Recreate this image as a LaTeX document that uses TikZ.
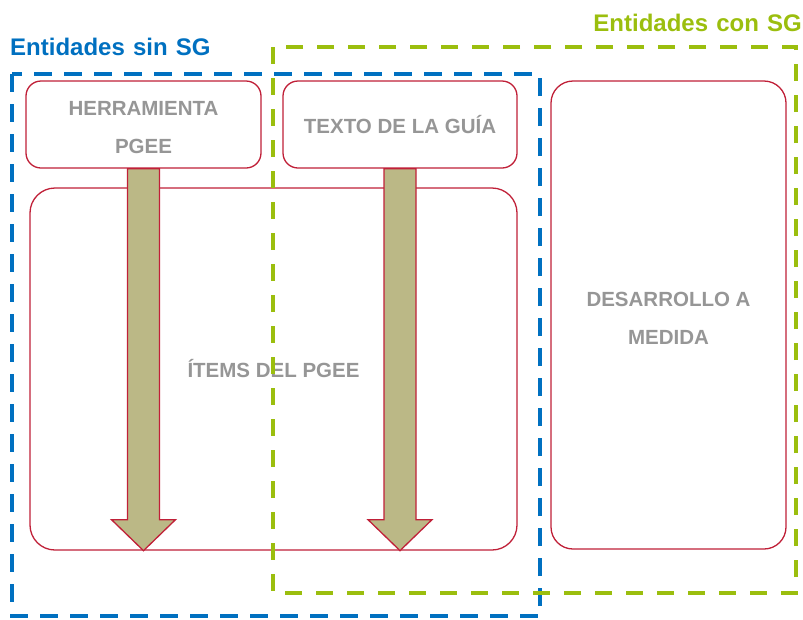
\documentclass[tikz,border=0pt]{standalone}
\usepackage{fontspec}
\setmainfont{Liberation Sans}
\usetikzlibrary{calc}
\definecolor{sgblue}{RGB}{0,112,192}
\definecolor{sggreen}{RGB}{155,190,14}
\definecolor{boxred}{RGB}{192,32,56}
\definecolor{txtgray}{RGB}{150,150,150}
\definecolor{arrowfill}{RGB}{187,184,134}
\newcommand{\topstrut}{\rule{0pt}{21pt}}
\tikzset{
  stepbox/.style={draw=boxred, line width=1.3pt, fill=white, inner sep=0pt,
    align=center, text=txtgray, font=\bfseries\fontsize{20.5}{38}\selectfont},
  bigarrow/.style={draw=boxred, line width=1.3pt, fill=arrowfill, line join=miter},
  bluegroup/.style={draw=sgblue, line width=4.5pt, dash pattern=on 18pt off 12pt},
  greengroup/.style={draw=sggreen, line width=4.5pt, dash pattern=on 17pt off 14pt},
  grouplabel/.style={inner sep=0pt, font=\bfseries\fontsize{24}{28}\selectfont}
}
\begin{document}
\begin{tikzpicture}[x=1pt,y=-1pt]
\useasboundingbox (0,0) rectangle (803,619);
% boxes
\node[stepbox, rounded corners=25pt, minimum width=487pt, minimum height=362pt] (items) at (273.5,369) {ÍTEMS DEL PGEE};
\node[stepbox, rounded corners=15pt, minimum width=235pt, minimum height=87pt] (herr) at (143.5,124.5) {\topstrut HERRAMIENTA\\PGEE};
\node[stepbox, rounded corners=15pt, minimum width=234pt, minimum height=87pt] (guia) at (400,124.5) {TEXTO DE LA GUÍA};
\node[stepbox, rounded corners=22pt, minimum width=235pt, minimum height=468pt] (medida) at (668.5,315) {\topstrut DESARROLLO A\\MEDIDA};
% arrows
\foreach \src in {herr,guia}{
  \draw[bigarrow]
    ($(\src.south)+(-16,0)$) --
    ($(items.south -| \src.south)+(-16,-31)$) --
    ($(items.south -| \src.south)+(-32,-31)$) --
    (items.south -| \src.south) --
    ($(items.south -| \src.south)+(32,-31)$) --
    ($(items.south -| \src.south)+(16,-31)$) --
    ($(\src.south)+(16,0)$) -- cycle;
}
% groups
\coordinate (bluenw) at (12,74);
\coordinate (bluese) at (540,616);
\coordinate (greennw) at (273,47);
\coordinate (greense) at (796,593);
\draw[bluegroup] (bluenw) rectangle (bluese);
\draw[greengroup] (greennw) rectangle (greense);
\node[grouplabel, text=sgblue, anchor=base west] (sinsg) at (10,55) {Entidades\hspace{1.5pt} sin\hspace{1.5pt} SG};
\node[grouplabel, text=sggreen, anchor=base east] (consg) at (802,31) {Entidades\hspace{1.5pt} con\hspace{1.5pt} SG};
\end{tikzpicture}
\end{document}
